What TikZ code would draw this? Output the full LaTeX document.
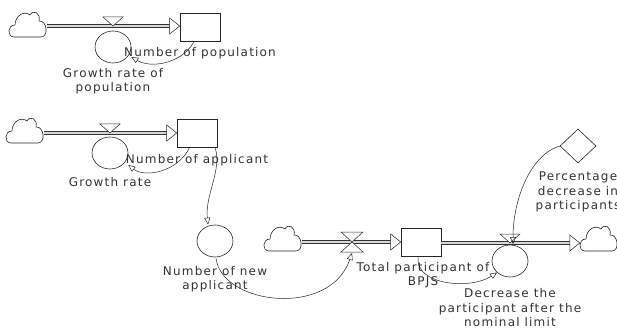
\documentclass[tikz,border=0pt]{standalone}
\usepackage{fontspec}
\setmainfont[LetterSpace=10]{DejaVu Sans}
\usetikzlibrary{shapes.geometric,arrows.meta}

\begin{document}
\begin{tikzpicture}[x=1pt,y=-1pt,
  font=\fontsize{12}{14.5}\selectfont,
  ink/.style={draw=black!85, line width=0.6pt},
  stock/.style={ink, rectangle, minimum width=40pt, minimum height=28pt, inner sep=0},
  aux/.style={ink, ellipse, minimum width=36pt, minimum height=32pt, inner sep=0},
  const/.style={ink, diamond, aspect=1, minimum width=36pt, minimum height=34pt, inner sep=0},
  lbl/.style={text=black!80, align=center, inner sep=0},
  cloudspot/.style={minimum width=38pt, minimum height=27pt, inner sep=0},
  pipe/.style={draw=black!80, line width=0.7pt, double=black!15, double distance=1.8pt},
  link/.style={ink, line width=0.5pt, -{Triangle[open,length=7pt,width=6pt]}},
  head/.style={ink, line width=0.5pt, fill=white},
  pics/vcloud/.style={code={
    \draw[ink, fill=white] (-14,13) .. controls (-21,13) and (-21,1) .. (-13,1)
      .. controls (-13,-8) and (-4,-14) .. (2,-9)
      .. controls (5,-15) and (13,-11) .. (11,-3)
      .. controls (19,-4) and (21,13) .. (13,13) -- cycle;}},
]
\useasboundingbox (0,0) rectangle (617,331);

% ---- population ----
\node[cloudspot] (cl1) at (28,24) {};
\pic at (cl1.center) {vcloud};
\node[stock] (st1) at (200,27) {};
\node[aux] (gr1) at (113,47) {};
\coordinate (v1) at (113,26);
\draw[pipe] (cl1.east |- v1) -- ([xshift=-10pt]st1.west |- v1);
\draw[head] (st1.west |- v1) -- ++(-10,-8) -- ++(0,16) -- cycle;
\draw[head] (v1) -- ++(-10,-9) -- ++(20,0) -- cycle;
\node[lbl] (t1) at (200,53) {Number of population};
\node[lbl] (t2) at (113,81) {Growth rate of\\population};
\draw[link] (st1.south west) ++(14,1) .. controls (180,65) and (150,68) .. (gr1.east |- 0,57);

% ---- applicants ----
\node[cloudspot] (cl2) at (25,130) {};
\pic at (cl2.center) {vcloud};
\node[stock] (st2) at (197,133) {};
\node[aux] (gr2) at (110,153) {};
\coordinate (v2) at (110,133);
\draw[pipe] (cl2.east |- v2) -- ([xshift=-10pt]st2.west |- v2);
\draw[head] (st2.west |- v2) -- ++(-10,-8) -- ++(0,16) -- cycle;
\draw[head] (v2) -- ++(-10,-9) -- ++(20,0) -- cycle;
\node[lbl] (t3) at (197,160) {Number of applicant};
\node[lbl] (t4) at (110,182) {Growth rate};
\draw[link] (st2.south west) ++(13,0) .. controls (178,172) and (145,178) .. (gr2.east |- 0,165);

% ---- new applicants ----
\node[aux] (na) at (215,241) {};
\node[lbl] (t5) at (215,279) {Number of new\\applicant};
\draw[link] (st2.south east) ++(-2,1) .. controls (222,170) and (205,195) .. (na.north -| 208,0);

% ---- BPJS participants ----
\node[cloudspot] (cl3) at (283,238) {};
\pic at (cl3.center) {vcloud};
\node[stock] (st3) at (421,242) {};
\coordinate (v3) at (352,242);
\draw[pipe] (cl3.east |- v3) -- ([xshift=-10pt]st3.west |- v3);
\draw[head] (st3.west |- v3) -- ++(-10,-8) -- ++(0,16) -- cycle;
\draw[head] (v3) -- ++(-11,-10) -- ++(22,0) -- cycle;
\draw[head] (v3) -- ++(-11,10) -- ++(22,0) -- cycle;
\node[lbl] (t6) at (423,275) {Total participant of\\BPJS};
\draw[link] (na.south) ++(1,1) .. controls (222,305) and (330,318) .. ([yshift=-1pt]v3 |- 0,252);

% ---- outflow ----
\node[cloudspot] (cl4) at (599,238) {};
\pic at (cl4.center) {vcloud};
\node[aux] (dec) at (510,261) {};
\coordinate (v4) at (510,243);
\draw[pipe] (st3.east |- v4) -- ([xshift=-10pt]cl4.west |- v4);
\draw[head] (cl4.west |- v4) -- ++(-10,-8) -- ++(0,16) -- cycle;
\draw[head] (v4) -- ++(-10,-9) -- ++(20,0) -- cycle;
\node[lbl] (t7) at (510,308) {Decrease the\\participant after the\\nominal limit};
\draw[link] (st3.south) ++(-3,1) .. controls (415,285) and (470,290) .. (dec.south west);

% ---- percentage ----
\node[const] (pc) at (578,146) {};
\node[lbl] (t8) at (578,192) {Percentage\\decrease in\\participants};
\draw[link] (pc.west) .. controls (530,155) and (513,200) .. (513,244);
\end{tikzpicture}
\end{document}
